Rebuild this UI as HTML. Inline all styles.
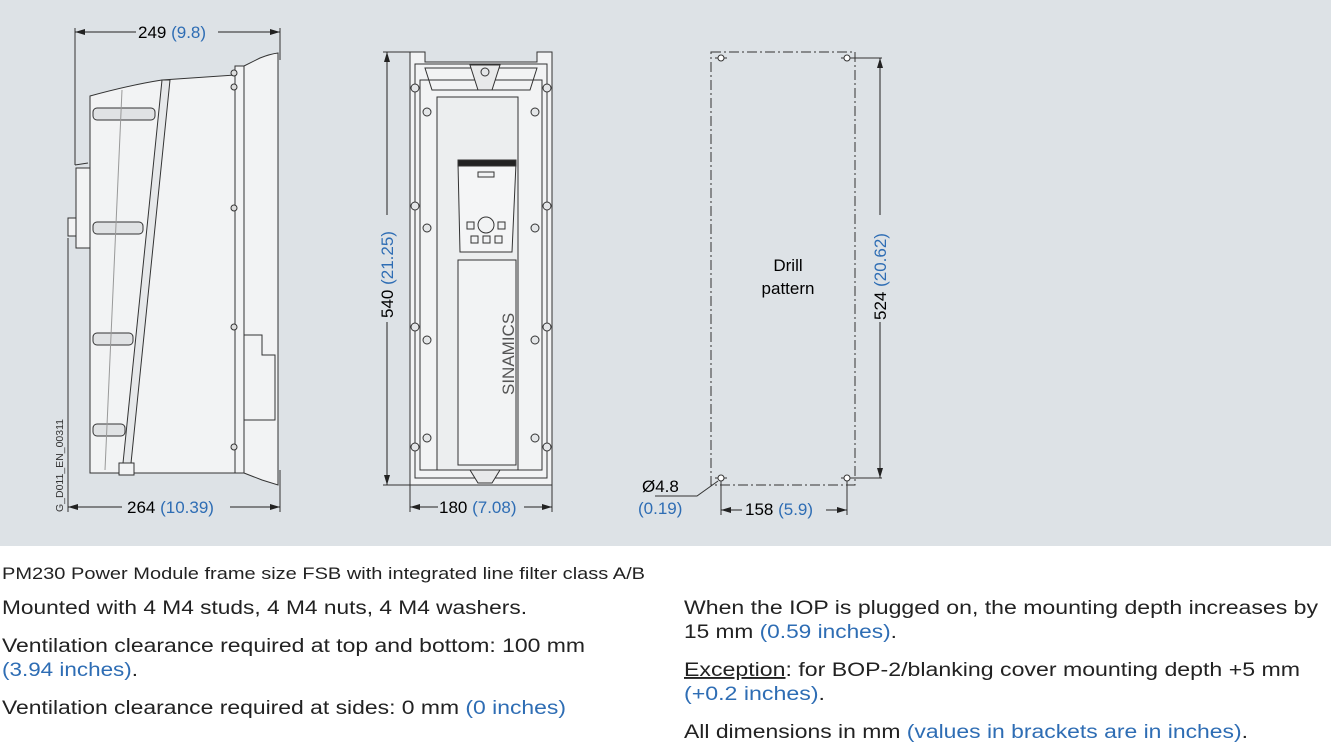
<!DOCTYPE html>
<html><head><meta charset="utf-8"><style>
html,body{margin:0;padding:0;background:#fff;}
svg{display:block;}
text{font-family:"Liberation Sans",sans-serif;}
.b{fill:#2e6db4;}
</style></head><body>
<svg width="1331" height="744" viewBox="0 0 1331 744" xmlns="http://www.w3.org/2000/svg">
<defs>
<marker id="a" viewBox="0 0 10 6" refX="10" refY="3" markerWidth="10" markerHeight="6" orient="auto-start-reverse" markerUnits="userSpaceOnUse"><path d="M0,0 L10,3 L0,6 z" fill="#222"/></marker>
</defs>
<rect x="0" y="0" width="1331" height="546" fill="#dde2e6"/>

<!-- SIDE VIEW -->
<g stroke="#333" stroke-width="1" fill="#f2f3f4">
<line x1="75" y1="28" x2="75" y2="165" fill="none"/>
<line x1="280" y1="28" x2="280" y2="60" fill="none"/>
<line x1="68" y1="238" x2="68" y2="512" fill="none"/>
<line x1="280" y1="470" x2="280" y2="512" fill="none"/>
<path d="M75,165 L88,163"/>
<rect x="76" y="168" width="14" height="80"/>
<rect x="68" y="218" width="8" height="18"/>
<path d="M90,96 Q130,85 162,80 L235,75 L235,473 L90,473 z"/>
<path d="M162,80 L170,80 L130,473 L122,473 z" fill="#e6e8ea"/>
<rect x="235" y="66" width="9" height="407"/>
<path d="M244,66 L260,58 Q270,54 278,53 L278,485 L262,480 L244,473 z"/>
<path d="M244,335 L262,335 L262,355 L275,355 L275,420 L244,420" fill="none"/>
<rect x="119" y="463" width="15" height="12"/>
<g fill="#e0e2e4">
<rect x="93" y="108" width="62" height="12" rx="4"/>
<rect x="93" y="222" width="50" height="12" rx="4"/>
<rect x="93" y="333" width="40" height="12" rx="4"/>
<rect x="93" y="424" width="32" height="12" rx="4"/>
</g>
<line x1="122" y1="90" x2="105" y2="470" fill="none" stroke="#999"/>
<g fill="#ddd"><circle cx="234" cy="73" r="3"/><circle cx="234" cy="87" r="3"/><circle cx="234" cy="208" r="3"/><circle cx="234" cy="327" r="3"/><circle cx="234" cy="447" r="3"/></g>
</g>
<line x1="75" y1="32" x2="136" y2="32" stroke="#222" marker-start="url(#a)"/>
<line x1="218" y1="32" x2="280" y2="32" stroke="#222" marker-end="url(#a)"/>
<text x="138" y="38" font-size="17">249 <tspan class="b">(9.8)</tspan></text>
<line x1="68" y1="507" x2="122" y2="507" stroke="#222" marker-start="url(#a)"/>
<line x1="230" y1="507" x2="280" y2="507" stroke="#222" marker-end="url(#a)"/>
<text x="127" y="513" font-size="17">264 <tspan class="b">(10.39)</tspan></text>
<text transform="translate(63,512) rotate(-90)" font-size="10.5" fill="#333">G_D011_EN_00311</text>

<!-- FRONT VIEW -->
<g stroke="#333" stroke-width="1" fill="#f2f3f4">
<line x1="383" y1="52" x2="412" y2="52" fill="none"/>
<line x1="383" y1="485" x2="412" y2="485" fill="none"/>
<line x1="410" y1="485" x2="410" y2="512" fill="none"/>
<line x1="552" y1="485" x2="552" y2="512" fill="none"/>
<path d="M410,52 L425,52 L425,62 L537,62 L537,52 L552,52 L552,485 L410,485 z"/>
<path d="M415,64 L547,64 L547,478 L415,478 z" fill="none"/>
<path d="M420,80 L542,80 L542,470 L420,470 z" fill="none"/>
<path d="M425,68 L537,68 L530,90 L432,90 z" fill="none"/>
<rect x="437" y="97" width="81" height="373" fill="#eceeef"/>
<path d="M470,65 L500,65 L492,90 L478,90 z" fill="#e8e9ea"/>
<path d="M470,470 L500,470 L492,483 L478,483 z" fill="#e8e9ea"/>
<path d="M458,163 L516,163 L512,252 L460,252 z" fill="#f4f5f6"/>
<rect x="458" y="160" width="58" height="6" fill="#222"/>
<rect x="478" y="172" width="16" height="5"/>
<circle cx="486" cy="225" r="8"/>
<rect x="467" y="222" width="7" height="7"/><rect x="498" y="222" width="7" height="7"/>
<rect x="471" y="236" width="7" height="7"/><rect x="483" y="236" width="7" height="7"/><rect x="495" y="236" width="7" height="7"/>
<rect x="458" y="260" width="58" height="205"/>
<g fill="#e4e6e8">
<circle cx="415" cy="88" r="4"/><circle cx="547" cy="88" r="4"/>
<circle cx="427" cy="112" r="4"/><circle cx="535" cy="112" r="4"/>
<circle cx="415" cy="206" r="4"/><circle cx="547" cy="206" r="4"/>
<circle cx="427" cy="228" r="4"/><circle cx="535" cy="228" r="4"/>
<circle cx="415" cy="327" r="4"/><circle cx="547" cy="327" r="4"/>
<circle cx="427" cy="340" r="4"/><circle cx="535" cy="340" r="4"/>
<circle cx="427" cy="438" r="4"/><circle cx="535" cy="438" r="4"/>
<circle cx="415" cy="447" r="4"/><circle cx="547" cy="447" r="4"/>
<circle cx="485" cy="72" r="4"/>
</g>
</g>
<text transform="translate(514,395) rotate(-90)" font-size="17" fill="#555">SINAMICS</text>
<line x1="387" y1="52" x2="387" y2="215" stroke="#222" marker-start="url(#a)"/>
<line x1="387" y1="322" x2="387" y2="485" stroke="#222" marker-end="url(#a)"/>
<text transform="translate(393,318) rotate(-90)" font-size="17">540 <tspan class="b">(21.25)</tspan></text>
<line x1="410" y1="507" x2="438" y2="507" stroke="#222" marker-start="url(#a)"/>
<line x1="524" y1="507" x2="552" y2="507" stroke="#222" marker-end="url(#a)"/>
<text x="439" y="513" font-size="17">180 <tspan class="b">(7.08)</tspan></text>

<!-- DRILL PATTERN -->
<rect x="711" y="52" width="144" height="433" fill="none" stroke="#333" stroke-dasharray="10,3,2,3"/>
<g stroke="#333" fill="#fff">
<line x1="847" y1="58" x2="882" y2="58"/><line x1="847" y1="478" x2="882" y2="478"/>
<line x1="721" y1="478" x2="721" y2="515"/><line x1="847" y1="478" x2="847" y2="515"/>
<line x1="715" y1="58" x2="727" y2="58"/><line x1="841" y1="58" x2="853" y2="58"/>
<line x1="715" y1="478" x2="727" y2="478"/><line x1="841" y1="478" x2="853" y2="478"/>
<circle cx="721" cy="58" r="3"/><circle cx="847" cy="58" r="3"/><circle cx="721" cy="478" r="3"/><circle cx="847" cy="478" r="3"/>
<path d="M718,481 L697,496 L655,496" fill="none"/>
</g>
<line x1="880" y1="58" x2="880" y2="215" stroke="#222" marker-start="url(#a)"/>
<line x1="880" y1="322" x2="880" y2="478" stroke="#222" marker-end="url(#a)"/>
<text transform="translate(886,320) rotate(-90)" font-size="17">524 <tspan class="b">(20.62)</tspan></text>
<line x1="721" y1="510" x2="742" y2="510" stroke="#222" marker-start="url(#a)"/>
<line x1="826" y1="510" x2="847" y2="510" stroke="#222" marker-end="url(#a)"/>
<text x="745" y="515" font-size="17">158 <tspan class="b">(5.9)</tspan></text>
<text x="642" y="492" font-size="17">Ø4.8</text>
<text x="638" y="514" font-size="17" class="b">(0.19)</text>
<text x="788" y="271" font-size="17" text-anchor="middle">Drill</text>
<text x="788" y="294" font-size="17" text-anchor="middle">pattern</text>

<!-- TEXT -->
<g fill="#222" font-size="19">
<text x="2" y="579" font-size="17" textLength="643" lengthAdjust="spacingAndGlyphs">PM230 Power Module frame size FSB with integrated line filter class A/B</text>
<text x="2" y="614" textLength="525" lengthAdjust="spacingAndGlyphs">Mounted with 4 M4 studs, 4 M4 nuts, 4 M4 washers.</text>
<text x="2" y="652" textLength="583" lengthAdjust="spacingAndGlyphs">Ventilation clearance required at top and bottom: 100 mm</text>
<text x="2" y="676" textLength="136" lengthAdjust="spacingAndGlyphs"><tspan class="b">(3.94 inches)</tspan>.</text>
<text x="2" y="714" textLength="564" lengthAdjust="spacingAndGlyphs">Ventilation clearance required at sides: 0 mm <tspan class="b">(0 inches)</tspan></text>
<text x="684" y="614" textLength="634" lengthAdjust="spacingAndGlyphs">When the IOP is plugged on, the mounting depth increases by</text>
<text x="684" y="638" textLength="213" lengthAdjust="spacingAndGlyphs">15 mm <tspan class="b">(0.59 inches)</tspan>.</text>
<text x="684" y="676" textLength="616" lengthAdjust="spacingAndGlyphs"><tspan text-decoration="underline">Exception</tspan>: for BOP-2/blanking cover mounting depth +5 mm</text>
<text x="684" y="700" textLength="141" lengthAdjust="spacingAndGlyphs"><tspan class="b">(+0.2 inches)</tspan>.</text>
<text x="684" y="738" textLength="564" lengthAdjust="spacingAndGlyphs">All dimensions in mm <tspan class="b">(values in brackets are in inches)</tspan>.</text>
</g>
</svg>
</body></html>
